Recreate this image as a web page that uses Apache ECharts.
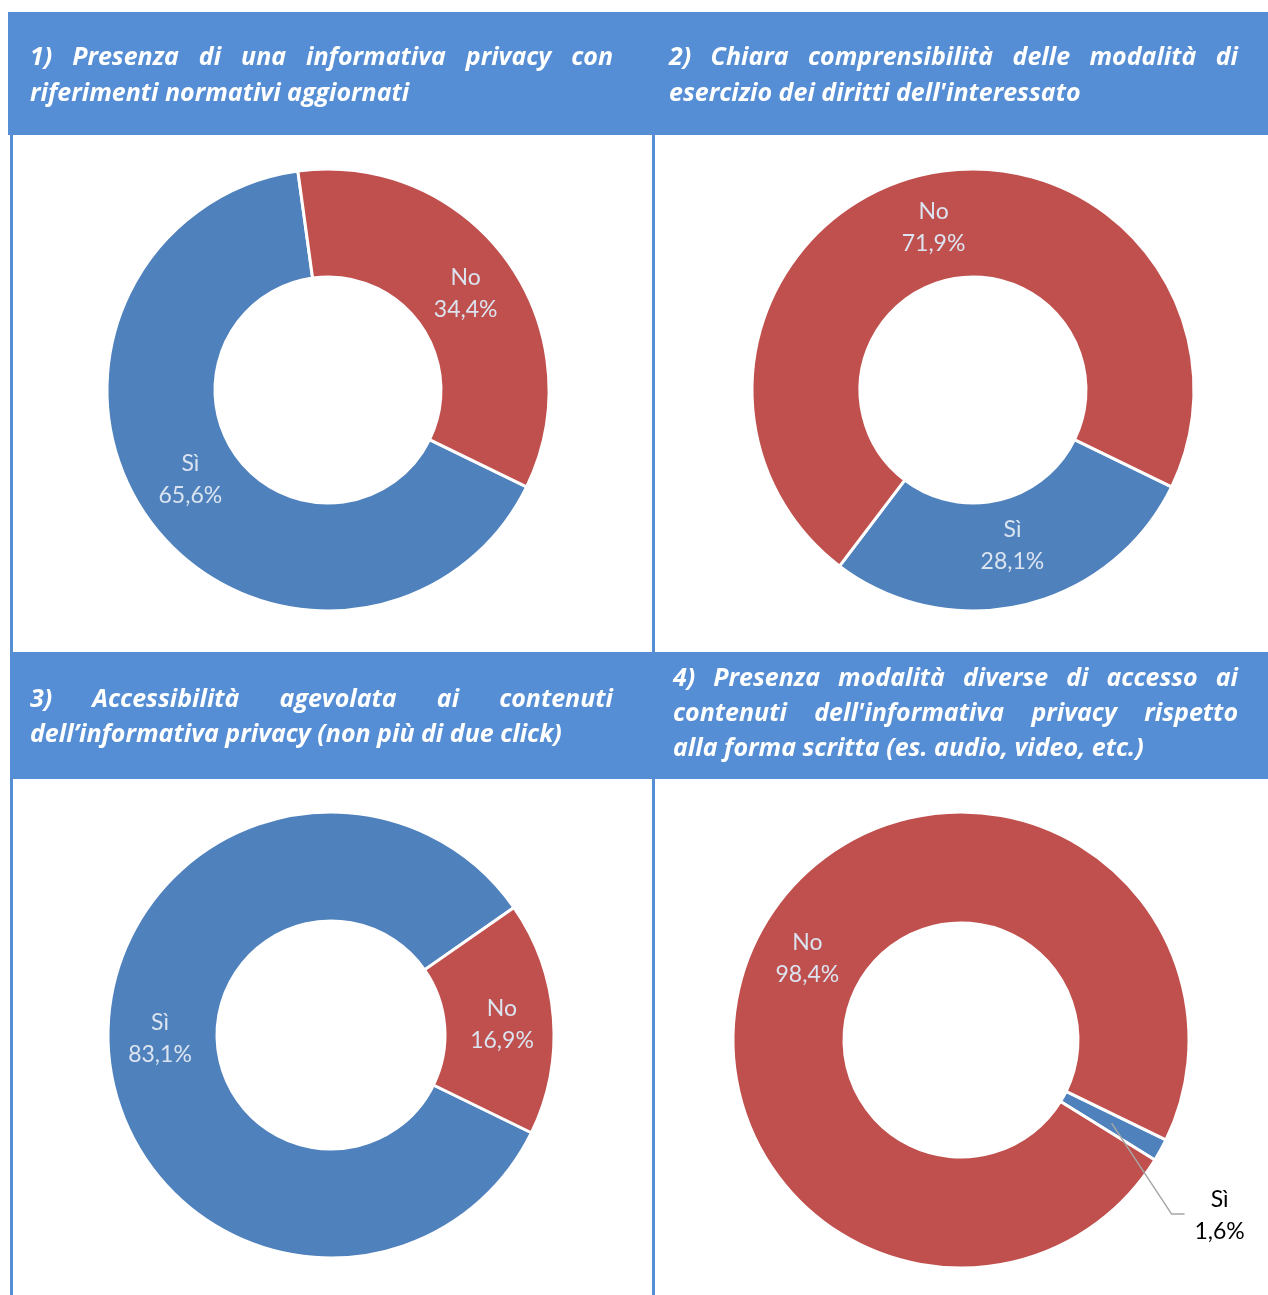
<!DOCTYPE html>
<html><head><meta charset="utf-8">
<script src="https://cdn.jsdelivr.net/npm/echarts@6/dist/echarts.min.js"></script>
<style>html,body{margin:0;padding:0;background:#fff;overflow:hidden}#c{width:1268px;height:1295px}</style>
</head><body><div id="c"></div>
<script>
// ---- data ----
const categories = ['Sì', 'No'];
const valuesQ1 = [65.6, 34.4];
const valuesQ2 = [28.1, 71.9];
const valuesQ3 = [83.1, 16.9];
const valuesQ4 = [1.6, 98.4];
const titleLines1 = ['1) Presenza di una informativa privacy con', 'riferimenti normativi aggiornati'];
const titleLines2 = ['2) Chiara comprensibilità delle modalità di', "esercizio dei diritti dell'interessato"];
const titleLines3 = ['3) Accessibilità agevolata ai contenuti', 'dell’informativa privacy (non più di due click)'];
const titleLines4 = ['4) Presenza modalità diverse di accesso ai', "contenuti dell'informativa privacy rispetto", 'alla forma scritta (es. audio, video, etc.)'];

// ---- styles ----
const COLORS = ['#4F81BD', '#C0504D'];
const LABEL_DY = [-10, 3];
const HEADER = '#558ED5';
const TFONT = 'Open Sans';
const TFS = 25, TLH = 36;
const ctx = document.createElement('canvas').getContext('2d');
ctx.font = 'italic bold ' + TFS + 'px "' + TFONT + '"';

function justified(lines, width, justifyCount, lh) {
  const rich = {};
  const out = lines.map((line, li) => {
    const words = line.split(' ');
    if (li >= justifyCount || words.length < 2) return line;
    const wsum = words.reduce((s, w) => s + ctx.measureText(w).width, 0);
    const gap = Math.max(5, (width - wsum) / (words.length - 1));
    const key = 'g' + li;
    rich[key] = { width: gap, lineHeight: lh, fontSize: TFS, fontFamily: TFONT, fontStyle: 'italic', fontWeight: 'bold', color: '#fff' };
    return words.join('{' + key + '| }');
  });
  return { text: out.join('\n'), rich };
}

function makeTitle(lines, left, top, width, justifyCount, lh) {
  const j = justified(lines, width, justifyCount, lh);
  return {
    text: j.text, left, top, padding: 0,
    textStyle: { color: '#fff', fontFamily: TFONT, fontStyle: 'italic', fontWeight: 'bold', fontSize: TFS, lineHeight: lh, rich: j.rich }
  };
}

const fmt = p => p.name + '\n' + p.value.toFixed(1).replace('.', ',') + '%';

function donut(vals, center, radius, hideFirst) {
  return {
    type: 'pie', center, radius, startAngle: -26, clockwise: true, avoidLabelOverlap: false, silent: true, z: 2,
    itemStyle: { borderColor: '#fff', borderWidth: 3 },
    label: { show: true, position: 'inside', formatter: fmt, color: '#dbe4f0', fontFamily: 'Lato', fontSize: 23, lineHeight: 32 },
    labelLine: { show: false },
    emphasis: { disabled: true },
    data: categories.map((n, i) => ({
      name: n, value: vals[i], itemStyle: { color: COLORS[i] },
      label: (hideFirst && i === 0) ? { show: false } : { offset: [0, LABEL_DY[i]] }
    }))
  };
}

const overlayQ4 = {
  type: 'pie', center: [961, 1040], radius: [0, 172], startAngle: -26, clockwise: true, silent: true, avoidLabelOverlap: false, z: 10,
  itemStyle: { color: 'rgba(0,0,0,0)', borderWidth: 0 },
  emphasis: { disabled: true },
  label: { show: false }, labelLine: { show: false },
  data: categories.map((n, i) => ({
    name: n, value: valuesQ4[i],
    label: i === 0 ? { show: true, position: 'outside', formatter: fmt, color: '#000', fontFamily: 'Lato', fontSize: 23, lineHeight: 32 } : { show: false },
    labelLine: i === 0 ? { show: true, length: 10, length2: 10, lineStyle: { color: '#a6a6a6', width: 1.5 } } : { show: false }
  })),
  labelLayout: function (p) {
    if (p.dataIndex !== 0 || !p.labelLinePoints) return {};
    const p0 = p.labelLinePoints[0];
    const p1 = [p0[0] + 60, p0[1] + 91];
    const p2 = [p1[0] + 13, p1[1]];
    return { x: p2[0] + 35, y: p2[1] + 2, align: 'center', verticalAlign: 'middle', labelLinePoints: [p0, p1, p2] };
  }
};

const chart = echarts.init(document.getElementById('c'), null, { renderer: 'canvas' });
chart.setOption({
  animation: false,
  backgroundColor: '#fff',
  graphic: [
    { type: 'rect', shape: { x: 8, y: 12, width: 1260, height: 123 }, style: { fill: HEADER }, silent: true },
    { type: 'rect', shape: { x: 10, y: 652, width: 1258, height: 127 }, style: { fill: HEADER }, silent: true },
    { type: 'rect', shape: { x: 10, y: 135, width: 3, height: 517 }, style: { fill: HEADER }, silent: true },
    { type: 'rect', shape: { x: 652, y: 135, width: 3, height: 517 }, style: { fill: HEADER }, silent: true },
    { type: 'rect', shape: { x: 10, y: 779, width: 3, height: 516 }, style: { fill: HEADER }, silent: true },
    { type: 'rect', shape: { x: 652, y: 779, width: 3, height: 516 }, style: { fill: HEADER }, silent: true }
  ],
  title: [
    makeTitle(titleLines1, 30, 40, 583, 1, TLH),
    makeTitle(titleLines2, 669, 40, 569, 1, TLH),
    makeTitle(titleLines3, 30, 682, 583, 1, 35),
    makeTitle(titleLines4, 673, 661, 565, 2, 35)
  ],
  series: [
    donut(valuesQ1, [328, 390], [113, 221], false),
    donut(valuesQ2, [973, 390], [113, 221], false),
    donut(valuesQ3, [331, 1035], [114, 223], false),
    donut(valuesQ4, [961, 1040], [117, 228], true),
    overlayQ4
  ]
});
</script></body></html>
